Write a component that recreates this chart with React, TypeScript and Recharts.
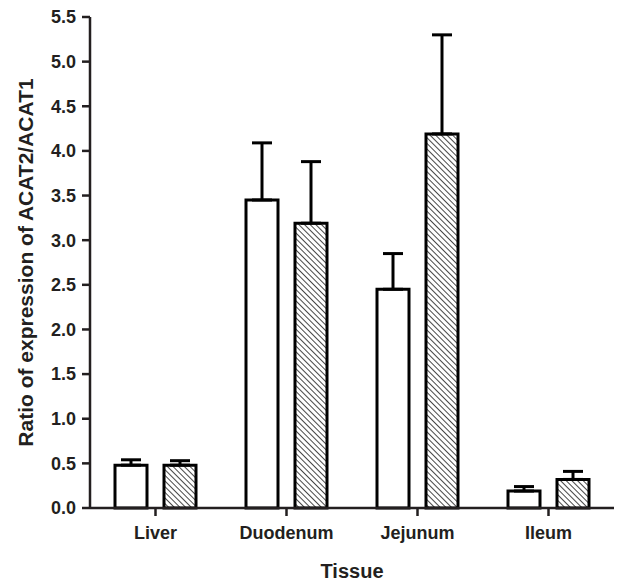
import { BarChart, Bar, XAxis, YAxis, ErrorBar, Label } from 'recharts';

const tissues = ['Liver', 'Duodenum', 'Jejunum', 'Ileum'];
const openValues = [0.48, 3.45, 2.45, 0.19];
const openErrors = [0.06, 0.64, 0.4, 0.05];
const hatchedValues = [0.48, 3.19, 4.19, 0.32];
const hatchedErrors = [0.05, 0.69, 1.11, 0.09];
const yTicks = [0, 0.5, 1, 1.5, 2, 2.5, 3, 3.5, 4, 4.5, 5, 5.5];

const chartData = tissues.map((name, i) => ({
  name,
  open: openValues[i],
  openErr: [0, openErrors[i]],
  hatched: hatchedValues[i],
  hatchedErr: [0, hatchedErrors[i]],
}));

const INK = '#231f20';
const FONT = '"Liberation Sans", Arial, sans-serif';

export default function App() {
  return (
    <div style={{ position: 'absolute', left: 0, top: 0, background: '#fff' }}>
      <BarChart
        width={623}
        height={583}
        data={chartData}
        margin={{ top: 17, right: 9, bottom: 0, left: 0 }}
        barSize={32}
        barGap={17}
        style={{ fontFamily: FONT }}
      >
        <defs>
          <pattern
            id="hatch"
            width="4"
            height="4"
            patternUnits="userSpaceOnUse"
            patternTransform="rotate(-45)"
          >
            <rect width="4" height="4" fill="#fff" />
            <line x1="0" y1="0" x2="0" y2="4" stroke="#333" strokeWidth="1.8" />
          </pattern>
        </defs>
        <XAxis
          dataKey="name"
          height={75}
          axisLine={{ stroke: INK, strokeWidth: 2.5 }}
          tickLine={{ stroke: INK, strokeWidth: 2.5 }}
          tickSize={8}
          tickMargin={10}
          tick={{ fontSize: 18, fontWeight: 'bold', fill: INK, fontFamily: FONT }}
        >
          <Label
            value="Tissue"
            position="insideBottom"
            offset={5}
            style={{ fontSize: 20, fontWeight: 'bold', fill: INK, fontFamily: FONT }}
          />
        </XAxis>
        <YAxis
          width={90}
          domain={[0, 5.5]}
          ticks={yTicks}
          interval={0}
          tickFormatter={(v: number) => v.toFixed(1)}
          axisLine={{ stroke: INK, strokeWidth: 2.5 }}
          tickLine={{ stroke: INK, strokeWidth: 2.5 }}
          tickSize={8}
          tickMargin={6}
          tick={{ fontSize: 18, fontWeight: 'bold', fill: INK, fontFamily: FONT }}
        >
          <Label
            value="Ratio of expression of ACAT2/ACAT1"
            angle={-90}
            position="center"
            dx={-19}
            style={{ fontSize: 21, fontWeight: 'bold', fill: INK, fontFamily: FONT, textAnchor: 'middle' }}
          />
        </YAxis>
        <Bar dataKey="open" fill="#fff" stroke="#000" strokeWidth={3} isAnimationActive={false}>
          <ErrorBar dataKey="openErr" direction="y" width={10} stroke="#000" strokeWidth={3} />
        </Bar>
        <Bar dataKey="hatched" fill="url(#hatch)" stroke="#000" strokeWidth={3} isAnimationActive={false}>
          <ErrorBar dataKey="hatchedErr" direction="y" width={10} stroke="#000" strokeWidth={3} />
        </Bar>
      </BarChart>
    </div>
  );
}
